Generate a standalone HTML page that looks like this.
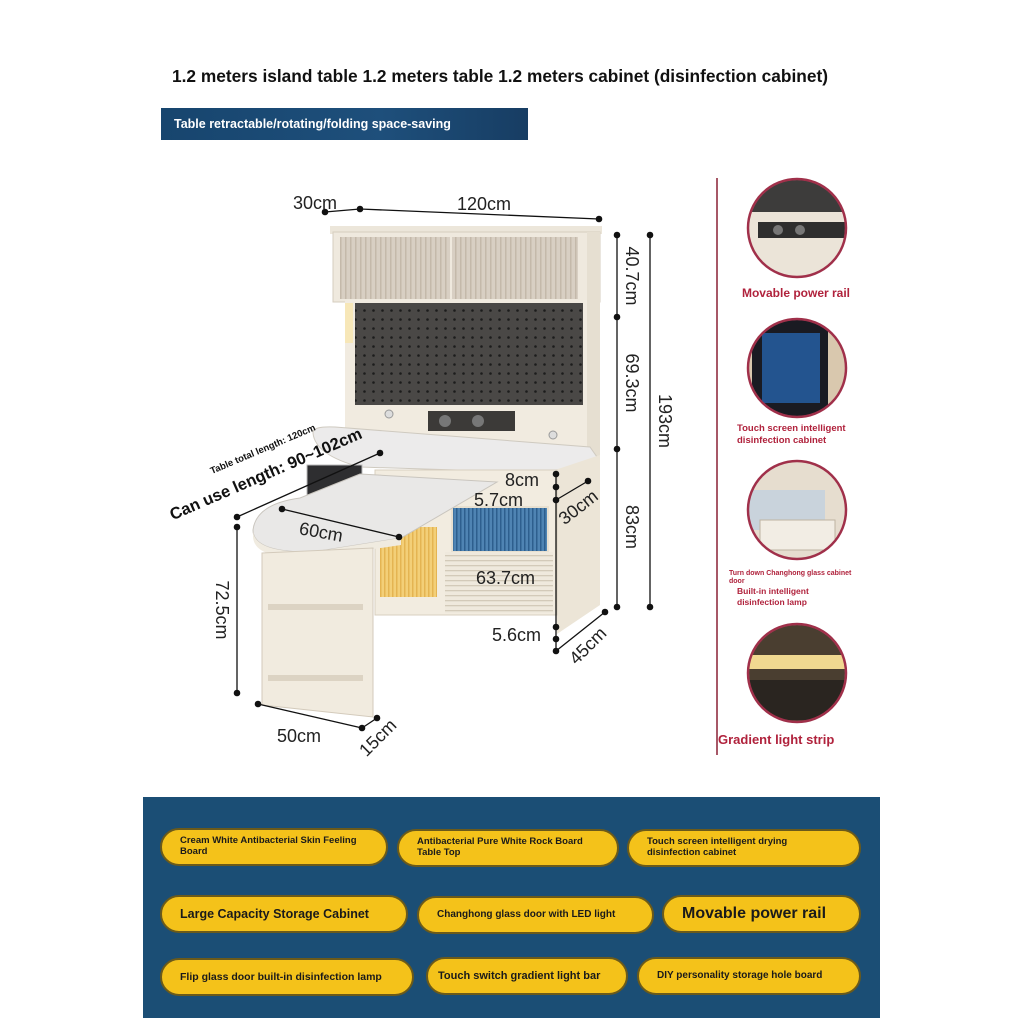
<!DOCTYPE html>
<html><head><meta charset="utf-8"><style>
html,body{margin:0;padding:0;background:#fff;}
body{width:1024px;height:1024px;overflow:hidden;position:relative;font-family:"Liberation Sans",sans-serif;}
.pill{position:absolute;background:#f4c21a;border:2px solid #6b5a1a;border-radius:22px;box-sizing:border-box;font-weight:bold;color:#1a1a1a;display:flex;align-items:center;padding:0 18px;line-height:1.15;white-space:normal;font-family:"Liberation Sans Narrow","Liberation Sans",sans-serif;}
</style></head><body>
<svg width="1024" height="1024" viewBox="0 0 1024 1024" style="position:absolute;left:0;top:0" font-family="Liberation Sans, sans-serif">
<defs>
<pattern id="peg" width="9" height="9" patternUnits="userSpaceOnUse"><rect width="9" height="9" fill="#4a4846"/><circle cx="4.5" cy="4.5" r="1.3" fill="#1c1c1c"/></pattern>
<pattern id="vstr" width="5" height="10" patternUnits="userSpaceOnUse"><rect width="5" height="10" fill="#d8cfc3"/><rect width="1.5" height="10" fill="#c4b9aa"/></pattern>
<pattern id="bstr" width="4" height="10" patternUnits="userSpaceOnUse"><rect width="4" height="10" fill="#4f84b3"/><rect width="1.5" height="10" fill="#2e5f8e"/></pattern>
<pattern id="ystr" width="4" height="10" patternUnits="userSpaceOnUse"><rect width="4" height="10" fill="#f3cf78"/><rect width="1.5" height="10" fill="#e4b452"/></pattern>
<pattern id="hstr" width="10" height="5" patternUnits="userSpaceOnUse"><rect width="10" height="5" fill="#efe9dd"/><rect width="10" height="1.3" fill="#d3cab9"/></pattern>
<linearGradient id="ban" x1="0" x2="1"><stop offset="0" stop-color="#17456e"/><stop offset="0.6" stop-color="#1e4f7b"/><stop offset="1" stop-color="#173d63"/></linearGradient>
<clipPath id="c1"><circle cx="797" cy="228" r="48"/></clipPath>
<clipPath id="c2"><circle cx="797" cy="368" r="48"/></clipPath>
<clipPath id="c3"><circle cx="797" cy="510" r="48"/></clipPath>
<clipPath id="c4"><circle cx="797" cy="673" r="48"/></clipPath>
</defs>

<text x="500" y="82" text-anchor="middle" font-size="17.5" font-weight="bold" fill="#111" textLength="656" lengthAdjust="spacingAndGlyphs">1.2 meters island table 1.2 meters table 1.2 meters cabinet (disinfection cabinet)</text>
<rect x="161" y="108" width="367" height="32" fill="url(#ban)"/>
<text x="174" y="128" font-size="12.5" font-weight="bold" fill="#fff">Table retractable/rotating/folding space-saving</text>

<!-- hutch -->
<rect x="330" y="226" width="272" height="8" fill="#ece6da"/>
<rect x="333" y="232" width="267" height="70" fill="#efe9de" stroke="#d6cdbf"/>
<rect x="340" y="237" width="110" height="62" fill="url(#vstr)"/>
<rect x="452" y="237" width="126" height="62" fill="url(#vstr)"/>
<rect x="345" y="300" width="250" height="160" fill="#f1ebe0"/>
<rect x="587" y="232" width="13" height="228" fill="#e6dfd1"/>
<rect x="355" y="303" width="228" height="102" fill="url(#peg)"/>
<rect x="345" y="303" width="8" height="40" fill="#f7e7b8"/>
<rect x="428" y="411" width="87" height="20" fill="#3c3a38"/>
<circle cx="445" cy="421" r="6" fill="#777"/><circle cx="478" cy="421" r="6" fill="#777"/>
<circle cx="389" cy="414" r="4" fill="#ddd" stroke="#999"/>
<circle cx="553" cy="435" r="4" fill="#ddd" stroke="#999"/>
<!-- desk top -->
<path d="M313,433 Q312,426 335,427 L590,447 L597,457 L583,474 L360,467 Q315,455 313,433 Z" fill="#ecebeb" stroke="#cfcac0"/>
<rect x="307" y="465" width="55" height="33" fill="#2e2e30" stroke="#bbb"/>
<!-- right cabinet -->
<path d="M555,470 L600,455 L600,605 L557,634 Z" fill="#ece5d7"/>
<rect x="375" y="470" width="182" height="145" fill="#f2ece0" stroke="#d8cfbf"/>
<rect x="452" y="507" width="96" height="45" fill="url(#bstr)" stroke="#e8e0d0" stroke-width="2"/>
<rect x="380" y="527" width="57" height="70" fill="url(#ystr)"/>
<rect x="445" y="552" width="108" height="61" fill="url(#hstr)"/>
<!-- extension table -->
<path d="M360,474 L497,482 L401,538 L313,552 Q253,553 253,530 Q256,504 300,498 Z" fill="#e9e8e7" stroke="#c9c5be"/>
<path d="M253,530 Q253,553 313,552 L401,538 L401,545 L313,558 Q253,560 253,536 Z" fill="#f0ebe0"/>
<!-- leg -->
<path d="M262,553 L373,548 L373,717 L262,705 Z" fill="#f1ebdf" stroke="#d3cabb"/>
<rect x="268" y="604" width="95" height="6" fill="#dcd3c3"/>
<rect x="268" y="675" width="95" height="6" fill="#dcd3c3"/>

<!-- dimension lines -->
<g stroke="#111" stroke-width="1.3" fill="none">
<line x1="325" y1="212" x2="360" y2="209"/><line x1="360" y1="209" x2="599" y2="219"/>
<line x1="617" y1="235" x2="617" y2="607"/><line x1="650" y1="235" x2="650" y2="607"/>
<line x1="380" y1="453" x2="237" y2="517"/><line x1="282" y1="509" x2="399" y2="537"/>
<line x1="237" y1="527" x2="237" y2="693"/>
<line x1="258" y1="704" x2="362" y2="728"/><line x1="362" y1="728" x2="377" y2="718"/>
<line x1="556" y1="474" x2="556" y2="651"/>
<line x1="556" y1="500" x2="588" y2="481"/><line x1="556" y1="651" x2="605" y2="612"/>
</g>
<g fill="#111">
<circle cx="325" cy="212" r="3.3"/><circle cx="360" cy="209" r="3.3"/><circle cx="599" cy="219" r="3.3"/>
<circle cx="617" cy="235" r="3.3"/><circle cx="617" cy="317" r="3.3"/><circle cx="617" cy="449" r="3.3"/><circle cx="617" cy="607" r="3.3"/>
<circle cx="650" cy="235" r="3.3"/><circle cx="650" cy="607" r="3.3"/>
<circle cx="380" cy="453" r="3.3"/><circle cx="237" cy="517" r="3.3"/><circle cx="282" cy="509" r="3.3"/><circle cx="399" cy="537" r="3.3"/>
<circle cx="237" cy="527" r="3.3"/><circle cx="237" cy="693" r="3.3"/>
<circle cx="258" cy="704" r="3.3"/><circle cx="362" cy="728" r="3.3"/><circle cx="377" cy="718" r="3.3"/>
<circle cx="556" cy="474" r="3.3"/><circle cx="556" cy="487" r="3.3"/><circle cx="556" cy="500" r="3.3"/>
<circle cx="588" cy="481" r="3.3"/>
<circle cx="556" cy="627" r="3.3"/><circle cx="556" cy="639" r="3.3"/><circle cx="556" cy="651" r="3.3"/><circle cx="605" cy="612" r="3.3"/>
</g>
<g font-size="18" fill="#222">
<text x="293" y="209">30cm</text>
<text x="457" y="210">120cm</text>
<text transform="translate(626,276) rotate(90)" text-anchor="middle">40.7cm</text>
<text transform="translate(626,383) rotate(90)" text-anchor="middle">69.3cm</text>
<text transform="translate(626,527) rotate(90)" text-anchor="middle">83cm</text>
<text transform="translate(659,421) rotate(90)" text-anchor="middle">193cm</text>
<text x="505" y="486">8cm</text>
<text x="474" y="506">5.7cm</text>
<text transform="translate(582,512) rotate(-38)" text-anchor="middle">30cm</text>
<text x="476" y="584">63.7cm</text>
<text x="492" y="641">5.6cm</text>
<text transform="translate(592,650) rotate(-45)" text-anchor="middle">45cm</text>
<text transform="translate(320,538) rotate(10)" text-anchor="middle">60cm</text>
<text transform="translate(216,610) rotate(90)" text-anchor="middle">72.5cm</text>
<text x="277" y="742">50cm</text>
<text transform="translate(382,742) rotate(-45)" text-anchor="middle">15cm</text>
</g>
<text transform="translate(264,452) rotate(-23)" text-anchor="middle" font-size="9.5" font-weight="bold" fill="#111">Table total length: 120cm</text>
<text transform="translate(268,479) rotate(-23.5)" text-anchor="middle" font-size="16.5" font-weight="bold" fill="#111">Can use length: 90~102cm</text>

<!-- right column -->
<line x1="717" y1="178" x2="717" y2="755" stroke="#8a2035" stroke-width="1.5"/>
<g clip-path="url(#c1)">
<rect x="740" y="170" width="120" height="120" fill="#ebe4d8"/>
<rect x="740" y="170" width="120" height="42" fill="#3d3c3b"/>
<rect x="758" y="222" width="90" height="16" fill="#2e2e2e"/>
<circle cx="778" cy="230" r="5" fill="#777"/><circle cx="800" cy="230" r="5" fill="#777"/>
</g>
<g clip-path="url(#c2)">
<rect x="740" y="310" width="120" height="120" fill="#d9c8ae"/>
<rect x="752" y="320" width="76" height="100" fill="#1a1b22"/>
<rect x="762" y="333" width="58" height="70" fill="#23548f"/>
</g>
<g clip-path="url(#c3)">
<rect x="740" y="452" width="120" height="120" fill="#e6ddcf"/>
<rect x="745" y="490" width="80" height="40" fill="#c9d3dc"/>
<rect x="760" y="520" width="75" height="30" fill="#f2ede4" stroke="#bfb4a2"/>
</g>
<g clip-path="url(#c4)">
<rect x="740" y="615" width="120" height="120" fill="#4a3e30"/>
<rect x="740" y="655" width="120" height="14" fill="#f0d890"/>
<rect x="740" y="680" width="120" height="40" fill="#2a2520"/>
</g>
<g stroke="#a0304a" stroke-width="2.5" fill="none">
<circle cx="797" cy="228" r="49"/>
<circle cx="797" cy="368" r="49"/>
<circle cx="797" cy="510" r="49"/>
<circle cx="797" cy="673" r="49"/>
</g>
<g fill="#b0223c" font-weight="bold">
<text x="796" y="297" text-anchor="middle" font-size="12">Movable power rail</text>
<text x="737" y="431" font-size="9.5">Touch screen intelligent</text>
<text x="737" y="443" font-size="9.5">disinfection cabinet</text>
<text x="729" y="575" font-size="7">Turn down Changhong glass cabinet</text>
<text x="729" y="583" font-size="7">door</text>
<text x="737" y="594" font-size="8.5">Built-in intelligent</text>
<text x="737" y="605" font-size="8.5">disinfection lamp</text>
<text x="718" y="744" font-size="13">Gradient light strip</text>
</g>
</svg>

<div style="position:absolute;left:143px;top:797px;width:737px;height:221px;background:#1b4e75;"></div>
<div class="pill" style="left:160px;top:828px;width:228px;height:38px;font-size:9.5px;">Cream White Antibacterial Skin Feeling Board</div>
<div class="pill" style="left:397px;top:829px;width:222px;height:38px;font-size:9.5px;">Antibacterial Pure White Rock Board Table Top</div>
<div class="pill" style="left:627px;top:829px;width:234px;height:38px;font-size:9.5px;">Touch screen intelligent drying disinfection cabinet</div>
<div class="pill" style="left:160px;top:895px;width:248px;height:38px;font-size:12.5px;">Large Capacity Storage Cabinet</div>
<div class="pill" style="left:417px;top:896px;width:237px;height:38px;font-size:10px;">Changhong glass door with LED light</div>
<div class="pill" style="left:662px;top:895px;width:199px;height:38px;font-size:16px;">Movable power rail</div>
<div class="pill" style="left:160px;top:958px;width:254px;height:38px;font-size:10.5px;">Flip glass door built-in disinfection lamp</div>
<div class="pill" style="left:426px;top:957px;width:202px;height:38px;font-size:11px;padding:0 10px;white-space:nowrap;">Touch switch gradient light bar</div>
<div class="pill" style="left:637px;top:957px;width:224px;height:38px;font-size:10px;">DIY personality storage hole board</div>
</body></html>
